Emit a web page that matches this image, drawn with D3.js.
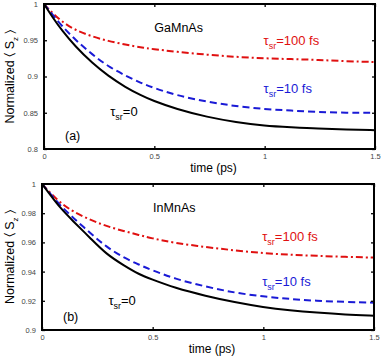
<!DOCTYPE html>
<html><head><meta charset="utf-8">
<script src="https://cdn.jsdelivr.net/npm/d3@7"></script>
<style>body{margin:0;background:#fff}svg{display:block}text{font-family:"Liberation Sans",Arial,sans-serif}</style>
</head><body>
<svg id="c" width="382" height="360"></svg>
<script>
const times = [0, 0.04, 0.08, 0.14, 0.22, 0.29, 0.37, 0.44, 0.49, 0.6, 0.74, 0.87, 1.0, 1.12, 1.24, 1.37, 1.5];
const gaBlack = [1, 0.981, 0.964, 0.942, 0.918, 0.901, 0.885, 0.874, 0.867, 0.855, 0.844, 0.837, 0.832, 0.830, 0.828, 0.827, 0.826];
const gaBlue  = [1, 0.985, 0.970, 0.951, 0.930, 0.914, 0.901, 0.891, 0.885, 0.874, 0.865, 0.859, 0.855, 0.853, 0.851, 0.850, 0.850];
const gaRed   = [1, 0.987, 0.976, 0.964, 0.955, 0.949, 0.944, 0.940, 0.938, 0.934, 0.930, 0.927, 0.925, 0.924, 0.923, 0.921, 0.920];
const inBlack = [1, 0.992, 0.984, 0.9746, 0.9627, 0.9520, 0.9442, 0.9380, 0.9350, 0.9288, 0.9233, 0.919, 0.9156, 0.9135, 0.9119, 0.9105, 0.9098];
const inBlue  = [1, 0.993, 0.9856, 0.9770, 0.9661, 0.957, 0.9494, 0.9446, 0.9414, 0.935, 0.9297, 0.9255, 0.9229, 0.9212, 0.920, 0.9192, 0.9187];
const inRed   = [1, 0.9935, 0.9875, 0.981, 0.9753, 0.9712, 0.9677, 0.9650, 0.9630, 0.9596, 0.9568, 0.9545, 0.9526, 0.9515, 0.9508, 0.9501, 0.9496];
const xTicks = [0, 0.5, 1, 1.5];
const xTickLabels = ["0", "0.5", "1", "1.5"];
const gaYTicks = [0.8, 0.85, 0.9, 0.95, 1];
const gaYTickLabels = ["0.8", "0.85", "0.9", "0.95", "1"];
const inYTicks = [0.9, 0.92, 0.94, 0.96, 0.98, 1];
const inYTickLabels = ["0.9", "0.92", "0.94", "0.96", "0.98", "1"];

const svg = d3.select("#c");

function panel(o) {
  const g = svg.append("g");
  const x = d3.scaleLinear().domain([0, 1.5]).range([o.l, o.r]);
  const y = d3.scaleLinear().domain(o.yDomain).range([o.b, o.t]);
  const line = d3.line().x((d, i) => x(times[i])).y(d => y(d)).curve(d3.curveBasis);
  const series = [
    {v: o.red, c: "#e01010", dash: "7,3,2,3"},
    {v: o.blue, c: "#1a1ad6", dash: "7,4"},
    {v: o.black, c: "#000", dash: null}
  ];
  series.forEach(s => {
    g.append("path").attr("d", line(s.v)).attr("fill", "none")
      .attr("stroke", s.c).attr("stroke-width", 2)
      .attr("stroke-dasharray", s.dash);
  });
  const tickStyle = sel => {
    sel.select(".domain").remove();
    sel.selectAll(".tick line").attr("stroke", "#000").attr("stroke-width", 1.3);
    sel.selectAll(".tick text").attr("fill", "#444").style("font-size", "7.5px");
  };
  g.append("g").attr("transform", `translate(0,${o.b})`)
    .call(d3.axisBottom(x).tickValues(xTicks).tickFormat((d, i) => xTickLabels[i]).tickSizeInner(-3).tickSizeOuter(0).tickPadding(5))
    .call(tickStyle);
  g.append("g").attr("transform", `translate(0,${o.t})`)
    .call(d3.axisTop(x).tickValues(xTicks).tickFormat("").tickSizeInner(-3).tickSizeOuter(0))
    .call(tickStyle);
  g.append("g").attr("transform", `translate(${o.l},0)`)
    .call(d3.axisLeft(y).tickValues(o.yTicks).tickFormat((d, i) => o.yLabels[i]).tickSizeInner(-3).tickSizeOuter(0).tickPadding(6))
    .call(tickStyle);
  g.append("g").attr("transform", `translate(${o.r},0)`)
    .call(d3.axisRight(y).tickValues(o.yTicks).tickFormat("").tickSizeInner(-3).tickSizeOuter(0))
    .call(tickStyle);
  g.append("rect").attr("x", o.l).attr("y", o.t).attr("width", o.r - o.l).attr("height", o.b - o.t)
    .attr("fill", "none").attr("stroke", "#000").attr("stroke-width", 2);

  g.append("text").attr("x", (o.l + o.r) / 2 + 4).attr("y", o.b + 23).attr("text-anchor", "middle")
    .style("font-size", "12px").text("time (ps)");
  const yl = g.append("text").attr("transform", `translate(14,${(o.t + o.b) / 2}) rotate(-90)`)
    .attr("text-anchor", "middle").style("font-size", "12.5px");
  yl.append("tspan").text("Normalized \u2329 S");
  yl.append("tspan").attr("dy", 4).style("font-size", "8px").text("z");
  yl.append("tspan").attr("dy", -4).text(" \u232A");

  g.append("text").attr("x", x(o.nameX)).attr("y", y(o.nameY)).style("font-size", "12.5px").text(o.name);
  g.append("text").attr("x", o.l + 21).attr("y", o.b - 9).style("font-size", "12.5px").text(o.tag);

  const tau = (tx, ty, col, txt) => {
    const t = g.append("text").attr("x", tx).attr("y", ty).attr("fill", col).style("font-size", "13px");
    t.append("tspan").text("\u03C4");
    t.append("tspan").attr("dy", 4).style("font-size", "9px").text("sr");
    t.append("tspan").attr("dy", -4).text(txt);
  };
  tau(x(o.redLab[0]), y(o.redLab[1]), "#e01010", "=100 fs");
  tau(x(o.blueLab[0]), y(o.blueLab[1]), "#1a1ad6", "=10 fs");
  tau(x(o.blackLab[0]), y(o.blackLab[1]), "#000", "=0");
}

panel({l: 44, r: 375, t: 4, b: 149, yDomain: [0.8, 1], yTicks: gaYTicks, yLabels: gaYTickLabels,
  black: gaBlack, blue: gaBlue, red: gaRed, name: "GaMnAs", nameX: 0.5, nameY: 0.962, tag: "(a)",
  redLab: [0.995, 0.944], blueLab: [0.995, 0.877], blackLab: [0.3, 0.846]});
panel({l: 42, r: 374, t: 184, b: 330, yDomain: [0.9, 1], yTicks: inYTicks, yLabels: inYTickLabels,
  black: inBlack, blue: inBlue, red: inRed, name: "InMnAs", nameX: 0.502, nameY: 0.981, tag: "(b)",
  redLab: [0.995, 0.961], blueLab: [0.995, 0.930], blackLab: [0.3, 0.917]});
</script>
</body></html>
